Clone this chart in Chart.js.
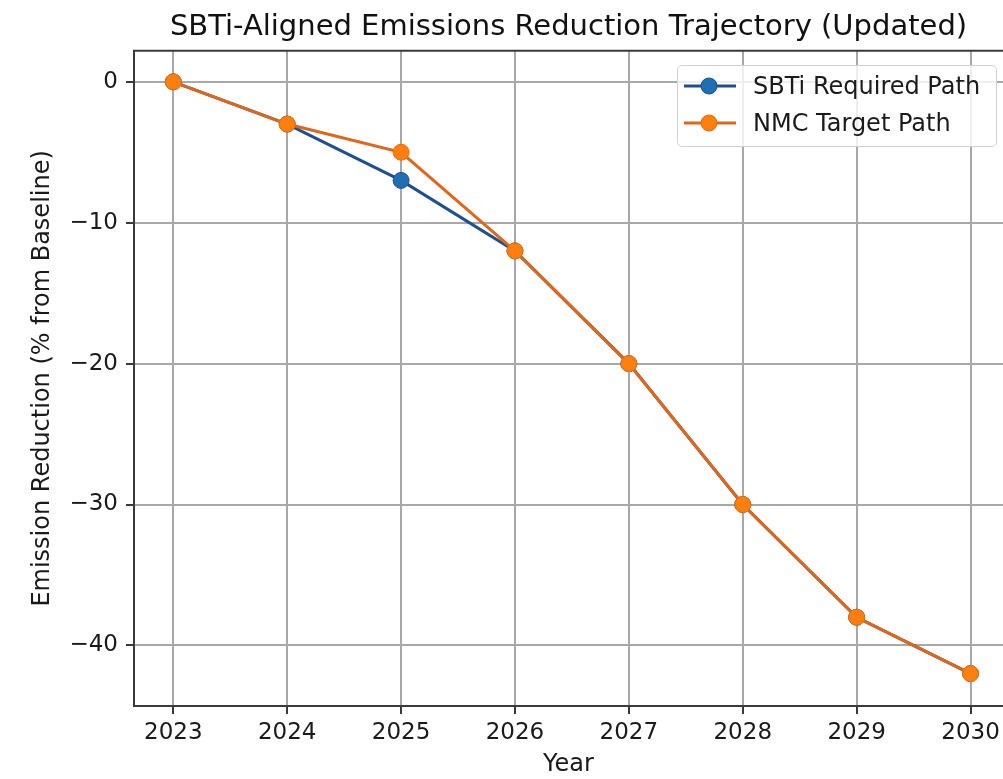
<!DOCTYPE html>
<html>
<head>
<meta charset="utf-8">
<script src="https://cdn.jsdelivr.net/npm/chart.js@4/dist/chart.umd.min.js"></script>
<style>
  html, body { margin: 0; padding: 0; background: #fff; overflow: hidden; }
  #wrap { position: relative; width: 1003px; height: 779px; overflow: hidden; }
  #chart { position: absolute; left: 0; top: 0; }
  #legend {
    position: absolute; left: 677px; top: 65px; width: 318px; height: 80px;
    border: 1px solid #d0d0d0; border-radius: 5px; background: rgba(255,255,255,0.8);
    font-family: "DejaVu Sans", sans-serif; font-size: 24px; color: #1a1a1a;
  }
  .item { position: absolute; left: 5px; height: 30px; display: flex; align-items: center; }
  .item svg { margin-right: 16px; }
</style>
</head>
<body>
<div id="wrap">
  <canvas id="chart" width="1012" height="779"></canvas>
  <div id="legend">
    <div class="item" style="top:5px">
      <svg width="54" height="20"><line x1="1" y1="10" x2="53" y2="10" stroke="#1d4f91" stroke-width="3"/><circle cx="26" cy="10" r="8" fill="#1f6fb4" stroke="#1d4f91" stroke-width="1"/></svg>
      <span>SBTi Required Path</span>
    </div>
    <div class="item" style="top:42px">
      <svg width="54" height="20"><line x1="1" y1="10" x2="53" y2="10" stroke="#e0661a" stroke-width="3"/><circle cx="26" cy="10" r="8" fill="#ff7f0e" stroke="#e8700f" stroke-width="1"/></svg>
      <span>NMC Target Path</span>
    </div>
  </div>
</div>
<script>
// === Data ===
const years = [2023, 2024, 2025, 2026, 2027, 2028, 2029, 2030];
const sbtiPath = [0, -3, -7, -12, -20, -30, -38, -42];
const nmcPath = [0, -3, -5, -12, -20, -30, -38, -42];
const yTicks = [0, -10, -20, -30, -40];

const font = "'DejaVu Sans', sans-serif";

// top edge of the frame like matplotlib (right edge is cropped off in the reference)
const framePlugin = {
  id: "frame",
  afterDraw(chart) {
    const { ctx, chartArea: a } = chart;
    ctx.save();
    ctx.strokeStyle = "#3a3a3a";
    ctx.lineWidth = 2;
    ctx.beginPath();
    ctx.moveTo(a.left - 1, a.top);
    ctx.lineTo(chart.width, a.top);
    ctx.stroke();
    ctx.restore();
  }
};

new Chart(document.getElementById("chart"), {
  type: "line",
  data: {
    datasets: [
      {
        label: "SBTi Required Path",
        data: years.map((y, i) => ({ x: y, y: sbtiPath[i] })),
        borderColor: "#1d4f91",
        backgroundColor: "#1f6fb4",
        pointBorderColor: "#1d4f91",
        borderWidth: 3,
        pointRadius: 8,
        pointBorderWidth: 1,
        order: 1
      },
      {
        label: "NMC Target Path",
        data: years.map((y, i) => ({ x: y, y: nmcPath[i] })),
        borderColor: "#e0661a",
        backgroundColor: "#ff7f0e",
        pointBorderColor: "#e8700f",
        borderWidth: 3,
        pointRadius: 8,
        pointBorderWidth: 1,
        order: 0
      }
    ]
  },
  options: {
    responsive: false,
    animation: false,
    layout: { padding: 0 },
    plugins: {
      legend: { display: false },
      tooltip: { enabled: false },
      title: {
        display: true,
        fullSize: false,
        text: "SBTi-Aligned Emissions Reduction Trajectory (Updated)",
        color: "#111",
        font: { family: font, size: 29, weight: "normal", lineHeight: 1.2 },
        padding: { top: 10, bottom: 6 }
      }
    },
    scales: {
      x: {
        type: "linear",
        min: 2022.655,
        max: 2030.285,
        afterBuildTicks: (s) => { s.ticks = years.map(v => ({ value: v })); },
        afterFit: (s) => { s.height = 73; },
        ticks: {
          color: "#1a1a1a",
          font: { family: font, size: 23 },
          padding: 5,
          maxRotation: 0,
          callback: (v) => String(v)
        },
        grid: { color: "#a8a8a8", lineWidth: 2, tickLength: 8, tickColor: "#3a3a3a" },
        border: { color: "#3a3a3a", width: 2 },
        title: {
          display: true, text: "Year", color: "#1a1a1a",
          font: { family: font, size: 24, lineHeight: 1.2 },
          padding: { top: 0, bottom: 0 }
        }
      },
      y: {
        min: -44.3,
        max: 2.2,
        afterBuildTicks: (s) => { s.ticks = yTicks.map(v => ({ value: v })); },
        afterFit: (s) => { s.width = 134; },
        ticks: {
          color: "#1a1a1a",
          font: { family: font, size: 23 },
          padding: 8,
          callback: (v) => String(v).replace("-", "\u2212")
        },
        grid: { color: "#a8a8a8", lineWidth: 2, tickLength: 8, tickColor: "#3a3a3a" },
        border: { color: "#3a3a3a", width: 2 },
        title: {
          display: true, text: "Emission Reduction (% from Baseline)", color: "#1a1a1a",
          font: { family: font, size: 24, lineHeight: 1.2 },
          padding: { top: 28, bottom: 0 }
        }
      }
    }
  },
  plugins: [framePlugin]
});
</script>
</body>
</html>
